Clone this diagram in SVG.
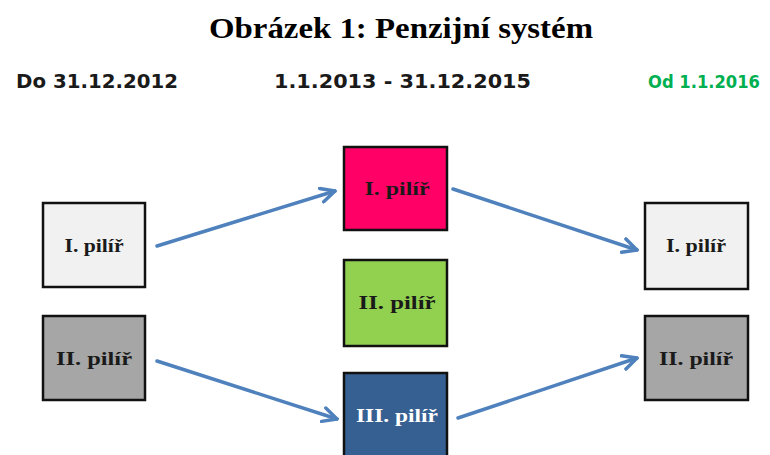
<svg xmlns="http://www.w3.org/2000/svg" width="770" height="455" viewBox="0 0 770 455">
<style>
.title{font-family:"Liberation Serif","Times New Roman",serif;font-weight:bold;font-size:30px;fill:#000}
.date{font-family:"DejaVu Sans",Verdana,sans-serif;font-weight:bold;font-size:19px;fill:#1a1a1a}
.box{stroke:#111;stroke-width:2.5}
.lbl{font-family:"Liberation Serif","Times New Roman",serif;font-weight:bold;font-size:19px;fill:#1a1a1a;text-anchor:middle}
.conn{stroke:#4f81bd;stroke-width:3.5;fill:none;stroke-linecap:round;marker-end:url(#ah)}
</style>
<defs>
<marker id="ah" viewBox="0 0 10 10" refX="9" refY="5" markerWidth="5" markerHeight="5" orient="auto" markerUnits="strokeWidth">
<path d="M1,1 L9,5 L1,9" fill="none" stroke="#4f81bd" stroke-width="2" stroke-linecap="round" stroke-linejoin="round"/>
</marker>
</defs>
<rect width="770" height="455" fill="#fff"/>
<text class="title" x="401" y="38" text-anchor="middle" textLength="384" lengthAdjust="spacingAndGlyphs">Obrázek 1: Penzijní systém</text>
<text class="date" x="16" y="88" textLength="162" lengthAdjust="spacingAndGlyphs">Do 31.12.2012</text>
<text class="date" x="274" y="88" textLength="257" lengthAdjust="spacingAndGlyphs">1.1.2013 - 31.12.2015</text>
<text class="date" x="648" y="88" textLength="112" lengthAdjust="spacingAndGlyphs" style="fill:#00b050;font-size:17px">Od 1.1.2016</text>
<g id="connectors">
<line class="conn" x1="157" y1="246" x2="335" y2="191"/>
<line class="conn" x1="453" y1="189" x2="637" y2="250"/>
<line class="conn" x1="157" y1="361" x2="337" y2="419"/>
<line class="conn" x1="458" y1="418" x2="637" y2="358"/>
</g>
<g id="left1"><rect class="box" x="43" y="203" width="102" height="84" fill="#f1f1f1"/><text class="lbl" x="94" y="252" textLength="59" lengthAdjust="spacingAndGlyphs">I. pilíř</text></g>
<g id="left2"><rect class="box" x="43" y="316" width="102" height="84" fill="#a6a6a6"/><text class="lbl" x="94" y="365" textLength="76" lengthAdjust="spacingAndGlyphs">II. pilíř</text></g>
<g id="mid1"><rect class="box" x="344" y="147" width="103" height="83" fill="#ff0066"/><text class="lbl" x="397" y="195" textLength="65" lengthAdjust="spacingAndGlyphs">I. pilíř</text></g>
<g id="mid2"><rect class="box" x="344" y="260" width="103" height="86" fill="#92d050"/><text class="lbl" x="397" y="309" textLength="77" lengthAdjust="spacingAndGlyphs">II. pilíř</text></g>
<g id="mid3"><rect class="box" x="344" y="373" width="103" height="84" fill="#376092"/><text class="lbl" x="397" y="422" textLength="82" lengthAdjust="spacingAndGlyphs" style="fill:#fff">III. pilíř</text></g>
<g id="right1"><rect class="box" x="645" y="203" width="103" height="86" fill="#f1f1f1"/><text class="lbl" x="696" y="252" textLength="60" lengthAdjust="spacingAndGlyphs">I. pilíř</text></g>
<g id="right2"><rect class="box" x="645" y="316" width="103" height="84" fill="#a6a6a6"/><text class="lbl" x="696" y="365" textLength="74" lengthAdjust="spacingAndGlyphs">II. pilíř</text></g>
</svg>
